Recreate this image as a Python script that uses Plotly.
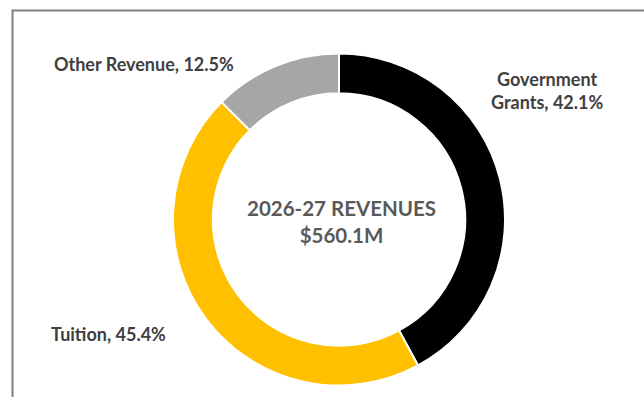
import plotly.graph_objects as go

# Revenue mix, 2026-27
categories = ["Government Grants", "Tuition", "Other Revenue"]
shares = [42.1, 45.4, 12.5]
colors = ["#000000", "#FFC000", "#A6A6A6"]
total_label = "$560.1M"
title_label = "2026-27 REVENUES"

W, H = 644, 397
cx, cy, r = 339, 219.5, 166  # donut centre and outer radius in pixels

fig = go.Figure(
    go.Pie(
        labels=categories,
        values=shares,
        marker=dict(colors=colors, line=dict(color="#FFFFFF", width=2)),
        hole=0.76,
        sort=False,
        direction="clockwise",
        rotation=0,
        textinfo="none",
        hoverinfo="label+percent",
        showlegend=False,
        domain=dict(
            x=[(cx - r) / W, (cx + r) / W],
            y=[(H - cy - r) / H, (H - cy + r) / H],
        ),
    )
)

label_font = dict(family="Lato, Carlito, sans-serif", size=18, color="#404040")


def px(x, y):
    return x / W, 1 - y / H


annotations = []
# slice labels: "Category, share%"
label_pos = {
    "Government Grants": (547, 90, "Government<br>Grants, {:.1f}%"),
    "Tuition": (109, 334, "Tuition, {:.1f}%"),
    "Other Revenue": (144, 64, "Other Revenue, {:.1f}%"),
}
for cat, val in zip(categories, shares):
    x, y, fmt = label_pos[cat]
    ax_, ay_ = px(x, y)
    annotations.append(
        dict(
            x=ax_, y=ay_, xref="paper", yref="paper",
            text="<b>" + fmt.format(val) + "</b>",
            showarrow=False, font=label_font, align="center",
            xanchor="center", yanchor="middle",
        )
    )

# centre title
tx, ty = px(cx + 3, 221)
annotations.append(
    dict(
        x=tx, y=ty, xref="paper", yref="paper",
        text="<b>" + title_label + "</b><br><b>" + total_label + "</b>",
        showarrow=False, align="center",
        font=dict(family="Lato, Carlito, sans-serif", size=20.5, color="#595959"),
        xanchor="center", yanchor="middle",
    )
)

fig.update_layout(
    width=W, height=H,
    margin=dict(l=0, r=0, t=0, b=0),
    paper_bgcolor="#FFFFFF",
    plot_bgcolor="#FFFFFF",
    annotations=annotations,
    shapes=[
        dict(
            type="rect", xref="paper", yref="paper",
            x0=12.5 / W, x1=1.05, y0=-0.05, y1=1 - 10.5 / H,
            line=dict(color="#808080", width=2), fillcolor="rgba(0,0,0,0)",
        )
    ],
)

fig.write_html("out.html")
